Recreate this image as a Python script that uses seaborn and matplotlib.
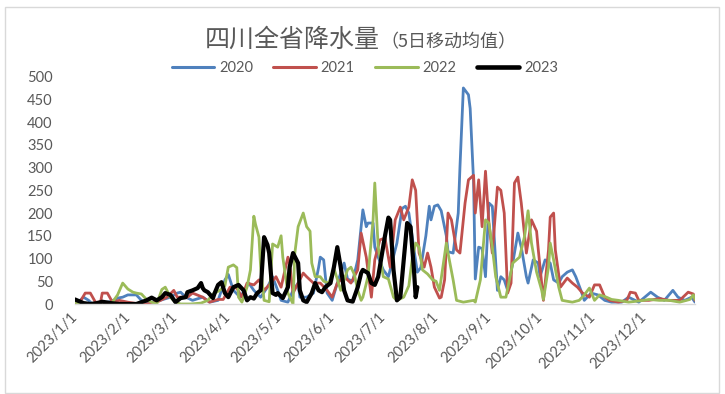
import numpy as np
import pandas as pd
import matplotlib
matplotlib.use("Agg")
import matplotlib.pyplot as plt
from matplotlib.lines import Line2D
from matplotlib.patches import Rectangle
import seaborn as sns

# ---------------- data (day offset from Jan 1, 5-day moving average) ----------------
years = ["2020", "2021", "2022", "2023"]

day_2020 = [0,3,5,8,10,15,21,25,28,31,36,39,42,46,50,56,60,62,65,69,75,79,84,86,88,90,93,97,102,105,
            109,113,116,119,121,125,128,131,132,136,140,143,144,146,148,151,154,158,160,163,166,169,171,172,175,
            176,178,181,184,186,189,192,194,196,199,201,203,206,208,209,211,213,215,218,219,222,225,226,228,231,
            232,234,235,237,239,241,243,245,248,250,252,254,257,260,262,265,266,269,272,273,276,279,281,284,286,
            289,292,294,297,299,303,307,311,315,321,325,331,338,342,346,351,354,358,362,364]
val_2020 = [0,8,15,8,0,3,5,13,15,20,20,8,3,4,8,15,24,26,15,8,15,4,8,30,53,65,30,15,46,30,
            15,37,60,30,8,4,30,46,15,15,24,80,103,97,24,8,46,90,55,50,97,207,170,178,178,
            125,103,75,60,90,134,210,215,200,120,70,80,150,215,185,215,218,205,150,115,112,200,300,475,460,
            430,270,55,125,122,60,222,215,30,60,53,30,90,156,125,60,46,97,90,60,97,90,53,46,60,
            70,75,60,30,8,24,20,8,4,4,15,4,26,15,8,30,15,8,15,4]

day_2021 = [0,3,6,9,12,15,16,19,22,26,31,38,42,48,54,58,60,66,69,75,79,84,87,91,95,98,101,105,108,111,
            115,118,121,125,126,128,131,134,136,140,144,148,151,154,158,162,166,168,171,174,176,179,182,185,188,
            191,193,196,198,200,202,205,207,209,211,214,215,217,219,221,224,226,229,231,234,235,237,239,241,243,
            245,248,250,252,254,256,258,260,262,265,268,271,272,275,278,279,281,282,285,289,292,295,298,302,305,
            308,311,314,319,324,326,329,331,337,343,349,355,360,363,364]
val_2021 = [0,5,24,24,4,4,24,24,4,8,4,0,0,4,15,30,15,15,24,15,4,10,10,37,35,15,46,42,53,30,
            46,60,37,103,90,24,46,68,60,46,46,30,15,46,60,46,75,156,103,15,97,141,145,81,185,
            213,185,213,273,250,112,81,112,81,37,13,15,53,200,185,119,112,222,273,283,200,273,170,292,178,
            112,257,250,200,24,46,266,279,222,112,185,160,119,8,119,191,200,119,37,57,46,37,24,15,42,
            42,15,8,4,8,26,24,8,8,12,8,8,26,22,8]

day_2022 = [0,3,9,16,22,25,28,31,34,36,39,42,45,48,51,53,56,59,62,68,74,78,81,85,88,90,93,95,96,98,
            101,103,105,106,108,109,111,114,116,119,121,122,125,128,129,131,134,136,138,139,141,144,146,149,152,
            154,156,160,162,164,166,168,169,172,175,176,178,181,184,187,189,193,196,198,200,202,204,207,210,212,
            214,218,219,222,224,228,234,235,238,241,243,245,247,250,253,257,261,264,266,268,271,274,275,278,279,
            281,284,286,292,296,299,302,305,308,312,315,319,325,334,337,343,349,355,361,363,364]
val_2022 = [4,0,0,0,4,20,46,33,26,24,22,10,4,0,32,37,15,4,0,0,2,8,22,30,40,81,86,80,15,4,
            37,75,193,175,147,81,8,5,132,125,150,103,24,0,110,170,200,170,160,90,60,60,50,46,78,
            55,30,75,81,65,30,8,15,60,185,266,125,60,55,15,8,15,40,100,134,125,75,66,53,50,
            30,134,112,53,8,4,8,4,53,185,178,125,60,15,15,90,103,150,205,134,70,30,10,81,134,
            97,37,8,4,8,20,35,8,20,15,10,8,4,8,10,8,8,4,10,20,10]

day_2023 = [0,5,9,13,16,21,26,32,36,39,42,45,48,51,53,56,59,62,65,66,69,72,74,75,76,78,81,82,84,86,
            88,90,93,96,99,101,103,105,107,109,111,113,114,116,118,119,122,125,126,128,131,132,134,136,139,
            141,143,145,147,150,152,154,156,158,160,163,166,168,169,172,174,176,178,182,184,185,187,189,191,193,
            195,197,199,200,201]
val_2023 = [10,2,0,2,5,2,0,0,0,4,8,14,8,15,24,20,4,13,15,26,30,35,46,35,30,26,13,24,42,48,
            24,15,37,42,30,8,15,12,24,30,147,130,112,24,20,24,13,37,81,112,90,30,8,4,24,
            46,30,26,37,46,81,125,81,30,8,5,37,68,75,68,46,42,60,150,190,185,75,8,15,97,
            178,170,75,15,37]

month_ticks = ["2023/1/1", "2023/2/1", "2023/3/1", "2023/4/1", "2023/5/1", "2023/6/1",
               "2023/7/1", "2023/8/1", "2023/9/1", "2023/10/1", "2023/11/1", "2023/12/1"]
y_ticks = [0, 50, 100, 150, 200, 250, 300, 350, 400, 450, 500]

title_main = "四川全省降水量"
title_sub = "（5日移动均值）"

# ---------------- build frame ----------------
start = pd.Timestamp("2023-01-01")
frames = []
for yr, d, v in zip(years, [day_2020, day_2021, day_2022, day_2023],
                    [val_2020, val_2021, val_2022, val_2023]):
    assert len(d) == len(v), (yr, len(d), len(v))
    frames.append(pd.DataFrame({"date": start + pd.to_timedelta(d, unit="D"),
                                "value": v, "year": yr}))
df = pd.concat(frames, ignore_index=True)

palette = {"2020": "#4F81BD", "2021": "#C0504D", "2022": "#9BBB59", "2023": "#000000"}
widths = {"2020": 2.0, "2021": 2.0, "2022": 2.0, "2023": 3.0}

sns.set_theme(style="white")
plt.rcParams["font.family"] = ["Lato", "Noto Sans CJK SC", "DejaVu Sans"]
grey = "#595959"

fig = plt.figure(figsize=(7.25, 3.94), dpi=100)
ax = fig.add_axes([75 / 725, 1 - 304 / 394, 620 / 725, (304 - 76.6) / 394])

sns.lineplot(data=df, x="date", y="value", hue="year", size="year",
             sizes=widths, palette=palette, hue_order=years, size_order=years,
             estimator=None, legend=False, ax=ax)

ax.set_xlim(start, start + pd.Timedelta(days=364))
ax.set_ylim(0, 500)
ax.set_yticks(y_ticks)
ax.set_xticks(pd.to_datetime(month_ticks, format="%Y/%m/%d"))
ax.set_xticklabels(month_ticks, rotation=45, ha="right", va="center",
                   rotation_mode="anchor")
ax.set_xlabel("")
ax.set_ylabel("")

for s in ["left", "top", "right"]:
    ax.spines[s].set_visible(False)
ax.spines["bottom"].set_color("#d9d9d9")
ax.spines["bottom"].set_linewidth(1.0)
ax.tick_params(axis="x", length=4, width=1, color="#d9d9d9", direction="out",
               labelsize=10.5, labelcolor=grey, pad=4)
ax.tick_params(axis="y", length=0, labelsize=10.5, labelcolor=grey, pad=16)
ax.grid(False)

# legend
handles = [Line2D([], [], color=palette[y], lw=widths[y] * 1.1) for y in years]
fig.legend(handles, years, ncol=4, loc="center",
           bbox_to_anchor=(365 / 725, 1 - 68 / 394), frameon=False,
           fontsize=10.5, handlelength=2.9, handletextpad=0.35,
           columnspacing=1.4, labelcolor=grey)

# title
fig.text(380 / 725, 1 - 47 / 394, title_main, ha="right", va="baseline",
         fontsize=18, color=grey, family=["Noto Sans CJK SC", "DejaVu Sans"])
fig.text(380 / 725, 1 - 47 / 394, title_sub, ha="left", va="baseline",
         fontsize=13, color=grey, family=["Noto Sans CJK SC", "DejaVu Sans"])

# outer chart border
fig.patches.append(Rectangle((5 / 725, 1 / 394), 714 / 725, 386 / 394,
                             transform=fig.transFigure, fill=False,
                             edgecolor="#d9d9d9", lw=1.0))

fig.savefig("out.png", dpi=100)
